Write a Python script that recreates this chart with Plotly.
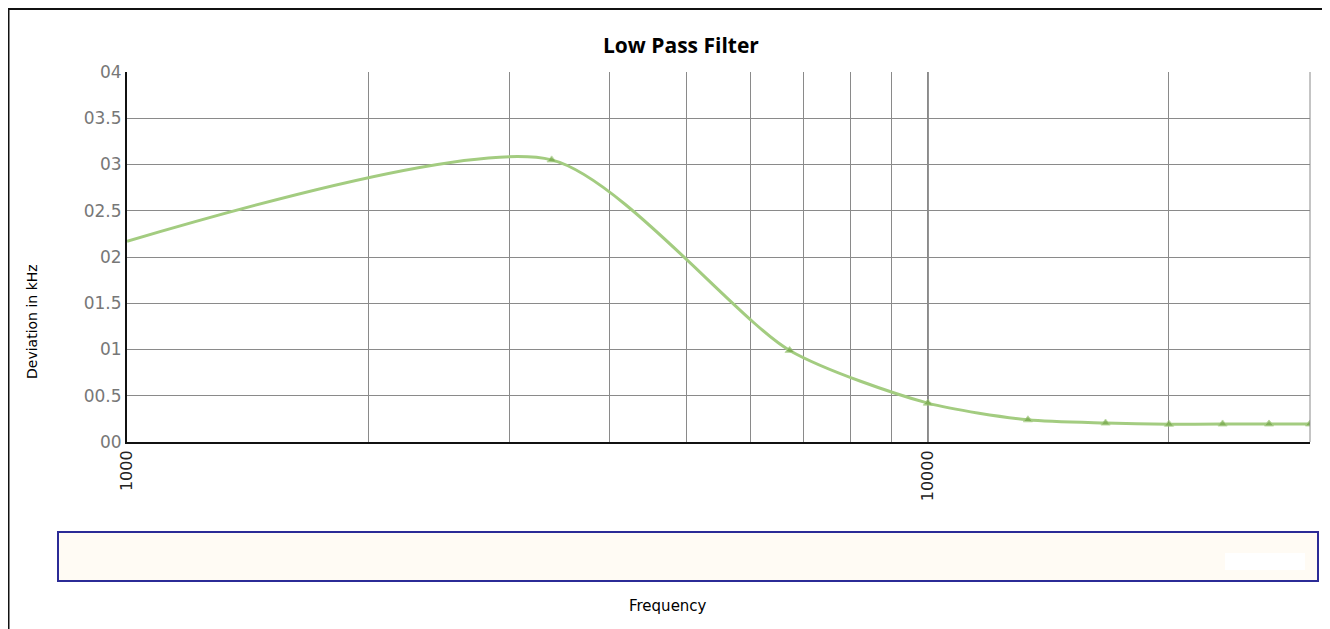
import plotly.graph_objects as go
import math

# Data
freq = [1000, 3390, 6720, 10000, 13333, 16667, 20000, 23333, 26667, 30000]
deviation = [0.217, 0.305, 0.099, 0.042, 0.024, 0.0205, 0.0192, 0.0195, 0.0195, 0.0195]
marker_sizes = [0, 8, 8, 8, 8, 8, 8, 8, 8, 8]

x_grid_vals = [1000, 2000, 3000, 4000, 5000, 6000, 7000, 8000, 9000, 10000, 20000]
x_grid_text = ["1000", "", "", "", "", "", "", "", "", "10000", ""]
decade_line = 10000
y_tick_vals = [0, 0.05, 0.1, 0.15, 0.2, 0.25, 0.3, 0.35, 0.4]
y_tick_text = ["00", "00.5", "01", "01.5", "02", "02.5", "03", "03.5", "04"]

OFF = 8  # page body margin
W, H = 1322, 621
ML, MT = 127 - OFF, 72 - OFF
MR = W - (1310 - OFF)
MB = H - (442 - OFF)
PW = W - ML - MR
PH = H - MT - MB


def px(x):
    return (x - OFF - ML) / PW


def py(y):
    return (H - MB - (y - OFF)) / PH


fig = go.Figure()
fig.add_trace(go.Scatter(
    x=freq, y=deviation, mode="lines+markers",
    line=dict(color="#a3cc80", width=3, shape="spline", smoothing=0.7),
    marker=dict(symbol="triangle-up", size=marker_sizes, color="#74a648"),
    showlegend=False,
))

fig.update_layout(
    width=W, height=H,
    margin=dict(l=ML, r=MR, t=MT, b=MB),
    paper_bgcolor="white", plot_bgcolor="white",
    showlegend=False,
    xaxis=dict(
        type="log", range=[3, math.log10(30000)],
        tickmode="array", tickvals=x_grid_vals, ticktext=x_grid_text,
        tickangle=-90, showgrid=True, gridcolor="#8a8a8a", gridwidth=1,
        showline=True, linecolor="#111", linewidth=2, mirror=False,
        ticks="", tickfont=dict(family="DejaVu Sans", size=16, color="#222"),
        zeroline=False,
    ),
    yaxis=dict(
        range=[0, 0.4], tickmode="array", tickvals=y_tick_vals, ticktext=y_tick_text,
        showgrid=True, gridcolor="#8a8a8a", gridwidth=1,
        showline=True, linecolor="#111", linewidth=2,
        ticks="", tickfont=dict(family="DejaVu Sans", size=17, color="#777"),
        zeroline=False,
    ),
    shapes=[
        # darker decade gridline
        dict(type="line", xref="x", yref="paper", x0=decade_line, x1=decade_line, y0=0, y1=1,
             line=dict(color="#555555", width=1.5), layer="below"),
        # right plot border
        dict(type="line", xref="paper", yref="paper", x0=1, x1=1, y0=0, y1=1,
             line=dict(color="#8a8a8a", width=1)),
        # outer border
        dict(type="line", xref="paper", yref="paper", x0=px(8), x1=px(1327), y0=py(9), y1=py(9),
             line=dict(color="#111", width=2)),
        dict(type="line", xref="paper", yref="paper", x0=px(8), x1=px(8), y0=py(9), y1=py(640),
             line=dict(color="#111", width=3)),
        dict(type="line", xref="paper", yref="paper", x0=px(1327), x1=px(1327), y0=py(9), y1=py(640),
             line=dict(color="#cccccc", width=1)),
        # legend box
        dict(type="rect", xref="paper", yref="paper", x0=px(58), x1=px(1318), y0=py(581), y1=py(532),
             line=dict(color="#2b2b96", width=2), fillcolor="#fffbf4", layer="below"),
        dict(type="rect", xref="paper", yref="paper", x0=px(1225), x1=px(1305), y0=py(570), y1=py(553),
             line=dict(width=0), fillcolor="#ffffff"),
    ],
    annotations=[
        dict(text="<b>Low Pass Filter</b>", xref="paper", yref="paper", x=px(681), y=py(45),
             showarrow=False, font=dict(family="Open Sans", size=21, color="#000"),
             xanchor="center", yanchor="middle"),
        dict(text="Frequency", xref="paper", yref="paper", x=px(668), y=py(606),
             showarrow=False, font=dict(family="DejaVu Sans", size=15, color="#000"),
             xanchor="center", yanchor="middle"),
        dict(text="Deviation in kHz", xref="paper", yref="paper", x=px(32), y=py(322),
             showarrow=False, textangle=-90, font=dict(family="DejaVu Sans", size=14, color="#000"),
             xanchor="center", yanchor="middle"),
    ],
)

fig.write_html("out.html")
